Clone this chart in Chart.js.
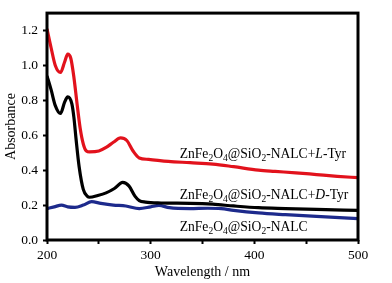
<!DOCTYPE html>
<html>
<head>
<meta charset="utf-8">
<script src="https://cdn.jsdelivr.net/npm/chart.js@4/dist/chart.umd.min.js"></script>
<style>
  html, body { margin: 0; padding: 0; background: #fff; }
  #wrap { width: 392px; height: 283px; }
</style>
</head>
<body>
<div id="wrap"><canvas id="chart"></canvas></div>
<script>
  // wavelength (nm) / absorbance
  const redX = [200, 204, 208, 213, 217, 220, 223, 226, 229, 232, 235, 238, 241, 250, 257, 264, 271, 277, 283, 289, 298, 317, 338, 360, 380, 404, 420, 440, 460, 480, 500];
  const redY = [1.21, 1.10, 1.00, 0.96, 1.02, 1.065, 1.04, 0.93, 0.78, 0.64, 0.55, 0.51, 0.505, 0.51, 0.53, 0.56, 0.585, 0.57, 0.51, 0.47, 0.462, 0.45, 0.443, 0.435, 0.42, 0.40, 0.393, 0.385, 0.375, 0.365, 0.357];

  const blackX = [200, 204, 208, 213, 217, 220, 224, 226, 228, 231, 235, 239, 241, 249, 257, 265, 273, 279, 285, 289, 295, 310, 338, 360, 380, 404, 430, 460, 500];
  const blackY = [0.94, 0.86, 0.77, 0.725, 0.79, 0.82, 0.78, 0.70, 0.58, 0.42, 0.29, 0.25, 0.245, 0.255, 0.27, 0.295, 0.33, 0.31, 0.25, 0.226, 0.217, 0.212, 0.21, 0.205, 0.195, 0.185, 0.18, 0.175, 0.17];

  const blueX = [200, 207, 214, 220, 227, 235, 243, 252, 264, 276, 289, 300, 308, 318, 338, 355, 368, 380, 404, 430, 460, 500];
  const blueY = [0.18, 0.19, 0.20, 0.19, 0.187, 0.20, 0.22, 0.21, 0.20, 0.195, 0.18, 0.19, 0.198, 0.185, 0.18, 0.182, 0.18, 0.17, 0.155, 0.145, 0.135, 0.123];

  const xTicks = [200, 300, 400, 500];
  const yTicks = [0.0, 0.2, 0.4, 0.6, 0.8, 1.0, 1.2];

  // curve labels, split in pieces: [text, style] with style n = normal, s = subscript, i = italic
  const labelRed = [["ZnFe", "n"], ["2", "s"], ["O", "n"], ["4", "s"], ["@SiO", "n"], ["2", "s"], ["-NALC+", "n"], ["L", "i"], ["-Tyr", "n"]];
  const labelBlack = [["ZnFe", "n"], ["2", "s"], ["O", "n"], ["4", "s"], ["@SiO", "n"], ["2", "s"], ["-NALC+", "n"], ["D", "i"], ["-Tyr", "n"]];
  const labelBlue = [["ZnFe", "n"], ["2", "s"], ["O", "n"], ["4", "s"], ["@SiO", "n"], ["2", "s"], ["-NALC", "n"]];

  const FONT = "'Liberation Serif', 'Times New Roman', serif";

  function pts(xs, ys) {
    return xs.map((x, i) => ({ x: x, y: ys[i] }));
  }

  function drawLabel(ctx, parts, x, y) {
    ctx.fillStyle = "#000";
    ctx.textBaseline = "alphabetic";
    ctx.textAlign = "left";
    parts.forEach(([t, s]) => {
      if (s === "s") {
        ctx.font = "9.5px " + FONT;
        ctx.fillText(t, x, y + 3);
      } else if (s === "i") {
        ctx.font = "italic 13.6px " + FONT;
        ctx.fillText(t, x, y);
      } else {
        ctx.font = "13.6px " + FONT;
        ctx.fillText(t, x, y);
      }
      x += ctx.measureText(t).width;
    });
  }

  const framePlugin = {
    id: "frame",
    afterDraw(chart) {
      const ctx = chart.ctx;
      const a = chart.chartArea;
      const xs = chart.scales.x, ys = chart.scales.y;
      ctx.save();
      ctx.strokeStyle = "#000";
      ctx.lineWidth = 3;
      ctx.strokeRect(a.left, a.top, a.right - a.left, a.bottom - a.top);
      drawLabel(ctx, labelRed, xs.getPixelForValue(328), ys.getPixelForValue(0.47));
      drawLabel(ctx, labelBlack, xs.getPixelForValue(328), ys.getPixelForValue(0.235));
      drawLabel(ctx, labelBlue, xs.getPixelForValue(328), ys.getPixelForValue(0.052));
      ctx.restore();
    }
  };

  const ds = (data, color) => ({
    data: data,
    borderColor: color,
    borderWidth: 3.2,
    pointRadius: 0,
    cubicInterpolationMode: "monotone",
    fill: false
  });

  new Chart(document.getElementById("chart"), {
    type: "line",
    data: {
      datasets: [
        ds(pts(redX, redY), "#e2121c"),
        ds(pts(blackX, blackY), "#000000"),
        ds(pts(blueX, blueY), "#1d2a8c")
      ]
    },
    options: {
      responsive: true,
      maintainAspectRatio: false,
      animation: false,
      layout: { padding: { left: 3, right: 34, top: 10, bottom: 2 } },
      plugins: { legend: { display: false }, tooltip: { enabled: false } },
      scales: {
        x: {
          type: "linear",
          min: 200,
          max: 500,
          afterFit(s) { s.height = 41; },
          border: { display: false },
          grid: { drawOnChartArea: false, tickLength: 4, tickWidth: 2, tickColor: "#000" },
          ticks: {
            stepSize: 50,
            color: "#000",
            padding: 3,
            maxRotation: 0,
            font: { family: FONT, size: 13.5 },
            callback: (v) => xTicks.includes(v) ? String(v) : ""
          },
          title: { display: true, text: "Wavelength / nm", color: "#000", padding: 0, font: { family: FONT, size: 14 } }
        },
        y: {
          min: 0,
          max: 1.3,
          afterFit(s) { s.width = 44; },
          border: { display: false },
          grid: { drawOnChartArea: false, tickLength: 4, tickWidth: 2, tickColor: "#000" },
          ticks: {
            stepSize: 0.1,
            color: "#000",
            padding: 5,
            font: { family: FONT, size: 13.5 },
            callback: (v) => {
              const r = Math.round(v * 10) / 10;
              return yTicks.some((t) => Math.abs(t - r) < 1e-6) ? r.toFixed(1) : "";
            }
          },
          title: { display: true, text: "Absorbance", color: "#000", padding: 0, font: { family: FONT, size: 14 } }
        }
      }
    },
    plugins: [framePlugin]
  });
</script>
</body>
</html>
